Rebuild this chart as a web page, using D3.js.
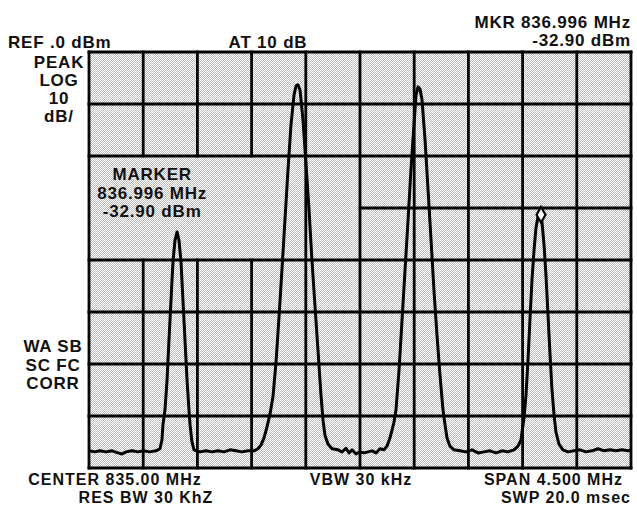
<!DOCTYPE html>
<html>
<head>
<meta charset="utf-8">
<script src="https://cdn.jsdelivr.net/npm/d3@7"></script>
<style>
  html, body { margin: 0; padding: 0; background: #fff; }
  svg text { font-family: "Liberation Sans", Arial, sans-serif; fill: #111; font-size: 17px; font-weight: bold; letter-spacing: 0.8px; }
  svg text.foot { font-size: 16px; letter-spacing: 1px; }
</style>
</head>
<body>
<div id="chart"></div>
<script>
// trace: frequency (MHz) and level (dBm)
const freqMHz = [
  832.750, 832.800, 832.841, 832.891, 832.941, 832.991, 833.024, 833.057, 833.107, 833.157,
  833.198, 833.256, 833.306, 833.339, 833.356, 833.364, 833.381, 833.398, 833.414, 833.431,
  833.447, 833.464, 833.481, 833.497, 833.514, 833.530, 833.547, 833.564, 833.580, 833.589,
  833.605, 833.622, 833.672, 833.721, 833.771, 833.821, 833.871, 833.921, 833.970, 834.020,
  834.070, 834.120, 834.153, 834.178, 834.203, 834.228, 834.253, 834.278, 834.303, 834.328,
  834.352, 834.377, 834.402, 834.427, 834.452, 834.469, 834.485, 834.502, 834.527, 834.552,
  834.577, 834.601, 834.626, 834.651, 834.676, 834.693, 834.709, 834.734, 834.768, 834.817,
  834.851, 834.884, 834.909, 834.934, 834.967, 835.000, 835.033, 835.066, 835.100, 835.133,
  835.166, 835.199, 835.224, 835.249, 835.266, 835.282, 835.299, 835.324, 835.349, 835.374,
  835.399, 835.423, 835.448, 835.465, 835.482, 835.498, 835.515, 835.540, 835.565, 835.590,
  835.614, 835.639, 835.664, 835.689, 835.706, 835.722, 835.747, 835.780, 835.830, 835.880,
  835.930, 835.980, 836.030, 836.079, 836.129, 836.179, 836.229, 836.279, 836.312, 836.337,
  836.345, 836.362, 836.378, 836.395, 836.411, 836.428, 836.445, 836.461, 836.478, 836.495,
  836.511, 836.528, 836.544, 836.561, 836.578, 836.594, 836.611, 836.627, 836.652, 836.685,
  836.727, 836.777, 836.827, 836.876, 836.926, 836.976, 837.026, 837.076, 837.125, 837.175,
  837.225, 837.250
];
const levelDbm = [
  -76.7, -76.9, -76.7, -76.9, -76.7, -77.1, -77.3, -76.9, -76.7, -76.9,
  -76.7, -76.9, -76.7, -76.3, -74.6, -71.7, -68.8, -63.1, -55.4, -47.7,
  -40.4, -36.2, -34.6, -36.2, -40.4, -47.7, -55.4, -63.1, -68.8, -71.7,
  -75.0, -76.5, -76.9, -76.7, -76.9, -76.7, -76.9, -76.5, -76.7, -76.9,
  -76.7, -76.7, -76.3, -75.6, -74.2, -72.1, -69.6, -66.2, -59.6, -50.8,
  -41.9, -32.3, -22.7, -14.0, -8.3, -6.5, -6.3, -7.3, -13.1, -21.7,
  -30.4, -40.0, -48.7, -57.3, -66.0, -70.8, -73.7, -75.4, -76.3, -76.5,
  -76.9, -76.2, -77.1, -76.5, -77.3, -76.9, -77.1, -76.9, -76.7, -77.1,
  -76.3, -76.5, -75.8, -74.2, -72.7, -71.2, -68.8, -61.2, -51.5, -41.9,
  -32.3, -22.7, -14.0, -8.3, -6.7, -7.1, -9.2, -16.9, -26.5, -36.2,
  -45.8, -54.4, -62.1, -68.8, -71.7, -74.2, -75.8, -76.5, -76.7, -76.9,
  -76.5, -77.1, -76.9, -76.7, -77.1, -76.7, -76.9, -76.5, -75.8, -74.6,
  -73.1, -70.4, -66.0, -59.2, -51.5, -43.8, -38.1, -33.8, -31.7, -31.3,
  -32.7, -37.1, -42.9, -50.6, -58.3, -65.0, -69.8, -73.1, -75.4, -76.5,
  -76.9, -76.7, -76.5, -76.9, -76.7, -76.3, -76.7, -76.5, -76.7, -76.5,
  -76.7, -76.5
];
const marker = { freq: 836.503, level: -31.3 };

const centerMHz = 835.00;
const spanMHz = 4.5;
const refDbm = 0;
const dbPerDiv = 10;
const xDivs = 10;
const yDivs = 8;

const topLabels = ["REF .0 dBm", "AT 10 dB"];
const mkrLabels = ["MKR 836.996 MHz", "-32.90 dBm"];
const scaleLabels = ["PEAK", "LOG", "10", "dB/"];
const markerLabels = ["MARKER", "836.996 MHz", "-32.90 dBm"];
const corrLabels = ["WA SB", "SC FC", "CORR"];
const bottomLeft = ["CENTER 835.00 MHz", "RES BW 30 KhZ"];
const bottomMid = ["VBW 30 kHz"];
const bottomRight = ["SPAN 4.500 MHz", "SWP 20.0 msec"];

const margin = { top: 52, right: 6, bottom: 40, left: 89 };
const svgSize = { width: 637, height: 508 };
const graphSize = {
  width: svgSize.width - margin.left - margin.right,
  height: svgSize.height - margin.top - margin.bottom
};

const svgRoot = d3.select("#chart").append("svg")
  .attr("width", svgSize.width)
  .attr("height", svgSize.height);

// halftone screen of the screenshot
const pat = svgRoot.append("defs").append("pattern")
  .attr("id", "dots")
  .attr("width", 2).attr("height", 2)
  .attr("patternUnits", "userSpaceOnUse");
pat.append("rect").attr("width", 2).attr("height", 2).attr("fill", "#fff");
pat.append("rect").attr("width", 1).attr("height", 1).attr("fill", "#bcbcbc");
pat.append("rect").attr("x", 1).attr("y", 1).attr("width", 1).attr("height", 1).attr("fill", "#bcbcbc");

const svg = svgRoot.append("g")
  .attr("transform", `translate(${margin.left},${margin.top})`);

const x = d3.scaleLinear()
  .domain([centerMHz - spanMHz / 2, centerMHz + spanMHz / 2])
  .range([0, graphSize.width]);
const y = d3.scaleLinear()
  .domain([refDbm, refDbm - dbPerDiv * yDivs])
  .range([0, graphSize.height]);

svg.append("rect")
  .attr("width", graphSize.width)
  .attr("height", graphSize.height)
  .attr("fill", "url(#dots)");

// graticule; the marker read-out box blanks part of it
const xLines = d3.range(xDivs + 1).map(i => x.domain()[0] + i * spanMHz / xDivs);
const yLines = d3.range(yDivs + 1).map(i => refDbm - i * dbPerDiv);
const boxTop = -20, boxBottom = -40;

const segs = [];
xLines.forEach((f, i) => {
  if (i > 0 && i < 4) {
    segs.push([f, refDbm, f, boxTop]);
    segs.push([f, boxBottom, f, y.domain()[1]]);
  } else {
    segs.push([f, refDbm, f, y.domain()[1]]);
  }
});
yLines.forEach(l => {
  if (l === -30) segs.push([xLines[5], l, x.domain()[1], l]);
  else segs.push([x.domain()[0], l, x.domain()[1], l]);
});

svg.append("g").selectAll("line")
  .data(segs)
  .enter().append("line")
  .attr("x1", d => x(d[0])).attr("y1", d => y(d[1]))
  .attr("x2", d => x(d[2])).attr("y2", d => y(d[3]))
  .attr("stroke", "#000")
  .attr("stroke-width", 2.8)
  .attr("stroke-linecap", "square");

// trace
const line = d3.line()
  .x((d, i) => x(freqMHz[i]))
  .y(d => y(d));

svg.append("path")
  .datum(levelDbm)
  .attr("d", line)
  .attr("fill", "none")
  .attr("stroke", "#000")
  .attr("stroke-width", 3)
  .attr("stroke-linejoin", "round");

svg.append("path")
  .attr("d", d3.symbol(d3.symbolDiamond, 70)())
  .attr("transform", `translate(${x(marker.freq)},${y(marker.level)})`)
  .attr("fill", "#fff")
  .attr("stroke", "#000")
  .attr("stroke-width", 2.2);

// marker read-out inside the graticule
svg.append("g").selectAll("text")
  .data(markerLabels)
  .enter().append("text")
  .attr("x", (x(xLines[0]) + x(xLines[2])) / 2 + 9)
  .attr("y", (d, i) => y(boxTop) + 24 + 18.5 * i)
  .attr("text-anchor", "middle")
  .text(d => d);

// annotations around the screen
const ann = svgRoot.append("g");
function block(lines, xs, y0, step, anchor, cls) {
  ann.append("g").selectAll("text")
    .data(lines)
    .enter().append("text")
    .attr("class", cls || null)
    .attr("x", (d, i) => xs[i])
    .attr("y", (d, i) => y0 + step * i)
    .attr("text-anchor", anchor)
    .text(d => d);
}
block([topLabels[0]], [8], 48, 0, "start");
block([topLabels[1]], [268], 48, 0, "middle");
block(mkrLabels, [631, 631], 28, 18, "end");
block(scaleLabels, [59, 59, 59, 59], 68, 18, "middle");
block(corrLabels, [53, 53, 53], 352, 18.5, "middle");
block(bottomLeft, [115, 146], 485, 18, "middle", "foot");
block(bottomMid, [361], 485, 0, "middle", "foot");
block(bottomRight, [623, 631], 485, 18, "end", "foot");
</script>
</body>
</html>
